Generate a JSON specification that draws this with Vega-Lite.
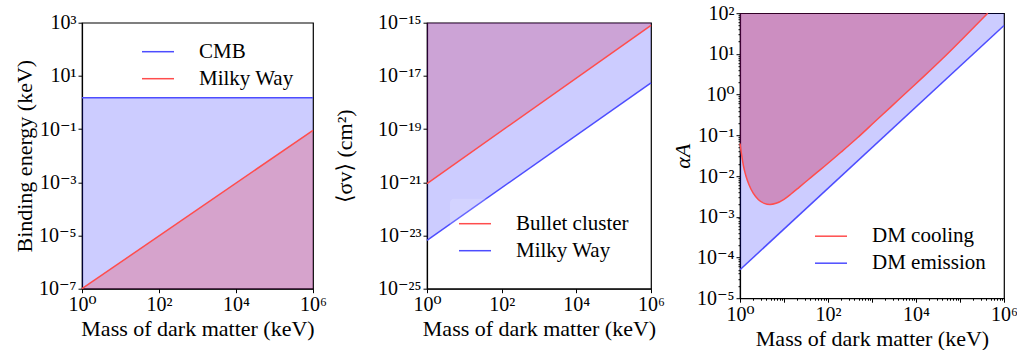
{
  "$schema": "https://vega.github.io/schema/vega-lite/v6.json",
  "background": "white",
  "padding": {"left": 12, "top": 2, "right": 4, "bottom": 0},
  "spacing": 4,
  "center": true,
  "config": {
    "font": "Liberation Serif, DejaVu Serif, serif",
    "view": {"stroke": "black", "strokeWidth": 1.2},
    "axis": {
      "domainColor": "black", "domainWidth": 1.2, "tickColor": "black", "tickWidth": 1,
      "labelColor": "black", "titleColor": "black",
      "labelFont": "Liberation Serif, DejaVu Serif, serif", "titleFont": "Liberation Serif, DejaVu Serif, serif",
      "labelFontSize": 20, "titleFontSize": 22, "titleFontWeight": "normal",
      "grid": false, "labelFlush": false, "labelOverlap": false, "tickSize": 4, "labelPadding": 2
    },
    "legend": {
      "labelFont": "Liberation Serif, DejaVu Serif, serif", "labelFontSize": 21, "labelColor": "black",
      "symbolType": "stroke", "symbolSize": 1024, "symbolStrokeWidth": 1.5,
      "labelOffset": 24, "rowPadding": -2, "padding": 8, "cornerRadius": 4
    }
  },
  "resolve": {"scale": {"color": "independent", "x": "independent", "y": "independent"}},
  "datasets": {
    "p1": [
      {"m": 1, "v": 1.5, "s": "CMB"},
      {"m": 1000000, "v": 1.5, "s": "CMB"},
      {"m": 1, "v": 1e-7, "s": "Milky Way"},
      {"m": 1000000, "v": 0.09, "s": "Milky Way"}
    ],
    "p2": [
      {"m": 1, "v": 9e-22, "s": "Bullet cluster"},
      {"m": 1000000, "v": 8e-16, "s": "Bullet cluster"},
      {"m": 1, "v": 6.6e-24, "s": "Milky Way"},
      {"m": 1000000, "v": 5.5e-18, "s": "Milky Way"}
    ],
    "p3": [
      {"m": 1, "v": 0.0631, "s": "DM cooling"},
      {"m": 1.096, "v": 0.0316, "s": "DM cooling"},
      {"m": 1.202, "v": 0.0174, "s": "DM cooling"},
      {"m": 1.349, "v": 0.01047, "s": "DM cooling"},
      {"m": 1.585, "v": 0.00631, "s": "DM cooling"},
      {"m": 1.995, "v": 0.0038, "s": "DM cooling"},
      {"m": 2.63, "v": 0.00263, "s": "DM cooling"},
      {"m": 3.548, "v": 0.00214, "s": "DM cooling"},
      {"m": 4.786, "v": 0.002, "s": "DM cooling"},
      {"m": 6.607, "v": 0.00214, "s": "DM cooling"},
      {"m": 10, "v": 0.00269, "s": "DM cooling"},
      {"m": 14.45, "v": 0.00363, "s": "DM cooling"},
      {"m": 22.39, "v": 0.00537, "s": "DM cooling"},
      {"m": 35.48, "v": 0.00813, "s": "DM cooling"},
      {"m": 56.23, "v": 0.0123, "s": "DM cooling"},
      {"m": 83.18, "v": 0.0174, "s": "DM cooling"},
      {"m": 199.5, "v": 0.0389, "s": "DM cooling"},
      {"m": 467.7, "v": 0.0871, "s": "DM cooling"},
      {"m": 1122, "v": 0.209, "s": "DM cooling"},
      {"m": 2692, "v": 0.501, "s": "DM cooling"},
      {"m": 6310, "v": 1.175, "s": "DM cooling"},
      {"m": 15490, "v": 2.88, "s": "DM cooling"},
      {"m": 39810, "v": 7.59, "s": "DM cooling"},
      {"m": 104700, "v": 21.4, "s": "DM cooling"},
      {"m": 223900, "v": 49, "s": "DM cooling"},
      {"m": 426600, "v": 100, "s": "DM cooling"},
      {"m": 1, "v": 5e-5, "s": "DM emission"},
      {"m": 1000000, "v": 50, "s": "DM emission"}
    ]
  },
  "hconcat": [
    {
      "width": 231, "height": 266,
      "data": {"name": "p1"},
      "encoding": {
        "x": {"field": "m", "type": "quantitative",
          "scale": {"type": "log", "domain": [1, 1000000], "nice": false},
          "axis": {"title": "Mass of dark matter (keV)", "values": [1, 100, 10000, 1000000],
            "labelExpr": "'10' + replace(replace(replace(replace(replace(replace(replace(replace(replace(replace(replace(toString(round(log(datum.value)/LN10)), '-', '⁻'), '0', '⁰'), '1', '¹'), '2', '²'), '3', '³'), '4', '⁴'), '5', '⁵'), '6', '⁶'), '7', '⁷'), '8', '⁸'), '9', '⁹')"}},
        "y": {"field": "v", "type": "quantitative",
          "scale": {"type": "log", "domain": [1e-7, 1000], "nice": false},
          "axis": {"title": "Binding energy (keV)", "titlePadding": 2, "values": [1e-7, 1e-5, 0.001, 0.1, 10, 1000],
            "labelExpr": "'10' + replace(replace(replace(replace(replace(replace(replace(replace(replace(replace(replace(toString(round(log(datum.value)/LN10)), '-', '⁻'), '0', '⁰'), '1', '¹'), '2', '²'), '3', '³'), '4', '⁴'), '5', '⁵'), '6', '⁶'), '7', '⁷'), '8', '⁸'), '9', '⁹')"}}
      },
      "layer": [
        {"transform": [{"filter": "datum.s === 'CMB'"}],
         "mark": {"type": "area", "color": "#0000ff", "opacity": 0.2},
         "encoding": {"y2": {"datum": 1e-7}}},
        {"transform": [{"filter": "datum.s === 'Milky Way'"}],
         "mark": {"type": "area", "color": "#ff0000", "opacity": 0.2},
         "encoding": {"y2": {"datum": 1e-7}}},
        {"mark": {"type": "line", "strokeWidth": 1.5},
         "encoding": {"color": {"field": "s", "type": "nominal",
           "scale": {"domain": ["CMB", "Milky Way"], "range": ["#4d4dff", "#ff4d4d"]},
           "legend": {"title": null, "orient": "none", "legendX": 51, "legendY": 4, "direction": "vertical", "fillColor": "rgba(255,255,255,0.15)"}}}}
      ]
    },
    {
      "width": 224, "height": 266,
      "data": {"name": "p2"},
      "encoding": {
        "x": {"field": "m", "type": "quantitative",
          "scale": {"type": "log", "domain": [1, 1000000], "nice": false},
          "axis": {"title": "Mass of dark matter (keV)", "values": [1, 100, 10000, 1000000],
            "labelExpr": "'10' + replace(replace(replace(replace(replace(replace(replace(replace(replace(replace(replace(toString(round(log(datum.value)/LN10)), '-', '⁻'), '0', '⁰'), '1', '¹'), '2', '²'), '3', '³'), '4', '⁴'), '5', '⁵'), '6', '⁶'), '7', '⁷'), '8', '⁸'), '9', '⁹')"}},
        "y": {"field": "v", "type": "quantitative",
          "scale": {"type": "log", "domain": [1e-25, 1e-15], "nice": false},
          "axis": {"title": "⟨σv⟩ (cm²)", "titlePadding": 21, "values": [1e-25, 1e-23, 1e-21, 1e-19, 1e-17, 1e-15],
            "labelExpr": "'10' + replace(replace(replace(replace(replace(replace(replace(replace(replace(replace(replace(toString(round(log(datum.value)/LN10)), '-', '⁻'), '0', '⁰'), '1', '¹'), '2', '²'), '3', '³'), '4', '⁴'), '5', '⁵'), '6', '⁶'), '7', '⁷'), '8', '⁸'), '9', '⁹')"}}
      },
      "layer": [
        {"transform": [{"filter": "datum.s === 'Bullet cluster'"}],
         "mark": {"type": "area", "color": "#ff0000", "opacity": 0.2},
         "encoding": {"y2": {"datum": 1e-15}}},
        {"transform": [{"filter": "datum.s === 'Milky Way'"}],
         "mark": {"type": "area", "color": "#0000ff", "opacity": 0.2},
         "encoding": {"y2": {"datum": 1e-15}}},
        {"mark": {"type": "line", "strokeWidth": 1.5},
         "encoding": {"color": {"field": "s", "type": "nominal",
           "scale": {"domain": ["Bullet cluster", "Milky Way"], "range": ["#ff4d4d", "#4d4dff"]},
           "legend": {"title": null, "orient": "none", "legendX": 23, "legendY": 176, "direction": "vertical", "fillColor": "rgba(255,255,255,0.15)"}}}}
      ]
    },
    {
      "width": 264, "height": 285,
      "data": {"name": "p3"},
      "encoding": {
        "x": {"field": "m", "type": "quantitative",
          "scale": {"type": "log", "domain": [1, 1000000], "nice": false},
          "axis": {"title": "Mass of dark matter (keV)",
            "values": [1,2,3,4,5,6,7,8,9,10,20,30,40,50,60,70,80,90,100,200,300,400,500,600,700,800,900,1000,2000,3000,4000,5000,6000,7000,8000,9000,10000,20000,30000,40000,50000,60000,70000,80000,90000,100000,200000,300000,400000,500000,600000,700000,800000,900000,1000000],
            "tickSize": {"condition": {"test": "abs(log(datum.value)/LN10 - round(log(datum.value)/LN10)) < 1e-6", "value": 4}, "value": 2},
            "labelExpr": "(abs(log(datum.value)/LN10 - round(log(datum.value)/LN10)) < 1e-6 && round(log(datum.value)/LN10) % 2 == 0) ? '10' + replace(replace(replace(replace(replace(replace(replace(replace(replace(replace(replace(toString(round(log(datum.value)/LN10)), '-', '⁻'), '0', '⁰'), '1', '¹'), '2', '²'), '3', '³'), '4', '⁴'), '5', '⁵'), '6', '⁶'), '7', '⁷'), '8', '⁸'), '9', '⁹') : ''"}},
        "y": {"field": "v", "type": "quantitative",
          "scale": {"type": "log", "domain": [1e-5, 100], "nice": false},
          "axis": {"title": "αA", "titleFontStyle": "italic", "titlePadding": 2,
            "values": [0.00001,0.00002,0.00003,0.00004,0.00005,0.00006,0.00007,0.00008,0.00009,0.0001,0.0002,0.0003,0.0004,0.0005,0.0006,0.0007,0.0008,0.0009,0.001,0.002,0.003,0.004,0.005,0.006,0.007,0.008,0.009,0.01,0.02,0.03,0.04,0.05,0.06,0.07,0.08,0.09,0.1,0.2,0.3,0.4,0.5,0.6,0.7,0.8,0.9,1,2,3,4,5,6,7,8,9,10,20,30,40,50,60,70,80,90,100],
            "tickSize": {"condition": {"test": "abs(log(datum.value)/LN10 - round(log(datum.value)/LN10)) < 1e-6", "value": 4}, "value": 2},
            "labelExpr": "abs(log(datum.value)/LN10 - round(log(datum.value)/LN10)) < 1e-6 ? '10' + replace(replace(replace(replace(replace(replace(replace(replace(replace(replace(replace(toString(round(log(datum.value)/LN10)), '-', '⁻'), '0', '⁰'), '1', '¹'), '2', '²'), '3', '³'), '4', '⁴'), '5', '⁵'), '6', '⁶'), '7', '⁷'), '8', '⁸'), '9', '⁹') : ''"}}
      },
      "layer": [
        {"transform": [{"filter": "datum.s === 'DM cooling'"}],
         "mark": {"type": "area", "color": "#ff0000", "opacity": 0.3, "interpolate": "monotone"},
         "encoding": {"y2": {"datum": 100}}},
        {"transform": [{"filter": "datum.s === 'DM emission'"}],
         "mark": {"type": "area", "color": "#0000ff", "opacity": 0.2},
         "encoding": {"y2": {"datum": 100}}},
        {"mark": {"type": "line", "strokeWidth": 1.5, "interpolate": "monotone"},
         "encoding": {"color": {"field": "s", "type": "nominal",
           "scale": {"domain": ["DM cooling", "DM emission"], "range": ["#ff4d4d", "#4d4dff"]},
           "legend": {"title": null, "orient": "none", "legendX": 66, "legendY": 198, "direction": "vertical"}}}}
      ]
    }
  ]
}
